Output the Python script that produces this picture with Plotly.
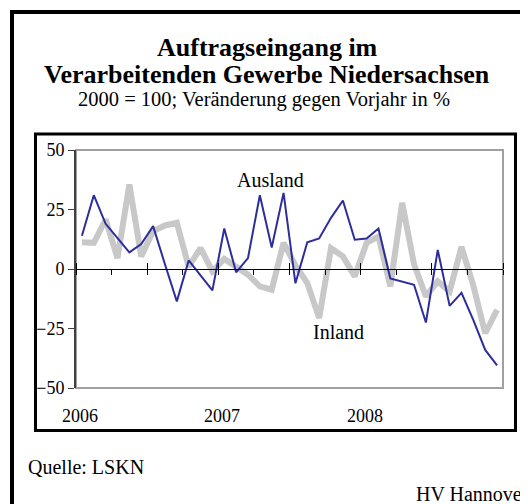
import plotly.graph_objects as go

# Monthly data Jan 2006 .. Dec 2008 (change vs previous year, %)
months = list(range(36))
ausland = [14, 31, 19, 13, 7, 10.5, 18, 2, -13.6, 3.6, -2.7, -9,
           17, -1.4, 4.6, 31, 9, 32, -6, 11.2, 12.8, 21.5, 28.8, 12.3,
           12.8, 17, -4, -5.3, -6.6, -22.5, 8, -15.5, -10, -21.5, -34, -40.5]
inland = [11.2, 11, 20.8, 4.6, 35.5, 5.3, 15.9, 18.3, 19.4, 1, 8.8, -1,
          4.2, 1.1, -2.4, -7.3, -8.7, 11, 1.5, -5.9, -20.6, 8.8, 5.3, -3.1,
          11, 13.7, -7.3, 27.8, 2, -11.5, -5.2, -9.4, 9.3, -7, -27, -17.2]
years = ["2006", "2007", "2008"]
yticks = [-50, -25, 0, 25, 50]
quarter_ticks = [q - 0.5 for q in range(0, 37, 3)]

FONT = "Liberation Serif, Times New Roman, serif"

fig = go.Figure()
fig.add_trace(go.Scatter(x=months, y=inland, mode="lines", name="Inland",
                         line=dict(color="#C8C8C8", width=6)))
fig.add_trace(go.Scatter(x=months, y=ausland, mode="lines", name="Ausland",
                         line=dict(color="#2E2E9A", width=2)))

# page body has an 8px margin: figure is drawn from (8, 8)
OFF = 8
W, H = 528 - OFF, 504 - OFF
PL, PR, PT, PB = 76, 503, 150, 388   # plot area in window pixels
L, T = PL - OFF, PT - OFF
R, B = W - (PR - OFF), H - (PB - OFF)
pw, ph = PR - PL, PB - PT

def px(xp):
    return (xp - PL) / pw

def py(yp):
    return (PB - yp) / ph

fig.update_layout(
    width=W, height=H,
    margin=dict(l=L, r=R, t=T, b=B),
    paper_bgcolor="white", plot_bgcolor="white",
    showlegend=False,
    font=dict(family=FONT, size=18, color="black"),
    xaxis=dict(range=[-0.5, 35.5], showgrid=False, zeroline=False,
               showline=True, linecolor="black", linewidth=1,
               anchor="free", position=0.5,
               tickmode="array", tickvals=quarter_ticks, ticks="outside",
               ticklen=5, tickcolor="black", showticklabels=False,
               minor=dict(tick0=-0.5, dtick=6, ticks="inside", ticklen=6,
                          tickcolor="black", showgrid=False)),
    yaxis=dict(range=[-50, 50], showgrid=False, zeroline=False,
               showline=True, linecolor="#404040", linewidth=2,
               tickmode="array", tickvals=yticks, ticks="outside",
               ticklen=6, tickcolor="#404040",
               tickfont=dict(family=FONT, size=18, color="black")),
)

shapes = [
    # gray plot-area frame
    dict(type="rect", xref="paper", yref="paper", x0=0, x1=1, y0=0, y1=1,
         line=dict(color="#A0A0A0", width=2), layer="below"),
    # inner black frame
    dict(type="rect", xref="paper", yref="paper",
         x0=px(35.5), x1=px(515.5), y0=py(430.5), y1=py(134),
         line=dict(color="black", width=3)),
    # outer frame (cropped right/bottom)
    dict(type="rect", xref="paper", yref="paper",
         x0=px(12), x1=px(560), y0=py(560), y1=py(12),
         line=dict(color="black", width=4)),
]
fig.update_layout(shapes=shapes)

ann = [
    dict(text="<b>Auftragseingang im</b>", x=px(267), y=py(48), size=26),
    dict(text="<b>Verarbeitenden Gewerbe Niedersachsen</b>", x=px(267), y=py(74.5), size=26),
    dict(text="2000 = 100; Veränderung gegen Vorjahr in %", x=px(264), y=py(99.5), size=20.5),
]
annotations = []
for a in ann:
    annotations.append(dict(text=a["text"], x=a["x"], y=a["y"], xref="paper", yref="paper",
                            showarrow=False, xanchor="center", yanchor="middle",
                            font=dict(family=FONT, size=a["size"], color="black")))
for k, yr in enumerate(years):
    annotations.append(dict(text=yr, x=12 * k - 0.15, y=py(416), xref="x", yref="paper",
                            showarrow=False, xanchor="center", yanchor="middle",
                            font=dict(family=FONT, size=18, color="black")))
annotations.append(dict(text="Ausland", x=15.9, y=37.2, xref="x", yref="y", showarrow=False,
                        xanchor="center", yanchor="middle",
                        font=dict(family=FONT, size=20, color="black")))
annotations.append(dict(text="Inland", x=21.6, y=-26.4, xref="x", yref="y", showarrow=False,
                        xanchor="center", yanchor="middle",
                        font=dict(family=FONT, size=20, color="black")))
annotations.append(dict(text="Quelle: LSKN", x=px(26), y=py(467), xref="paper", yref="paper",
                        showarrow=False, xanchor="left", yanchor="middle",
                        font=dict(family=FONT, size=20, color="black")))
annotations.append(dict(text="HV Hannover", x=px(414), y=py(494), xref="paper", yref="paper",
                        showarrow=False, xanchor="left", yanchor="middle",
                        font=dict(family=FONT, size=20, color="black")))
fig.update_layout(annotations=annotations)

fig.write_html("out.html")
